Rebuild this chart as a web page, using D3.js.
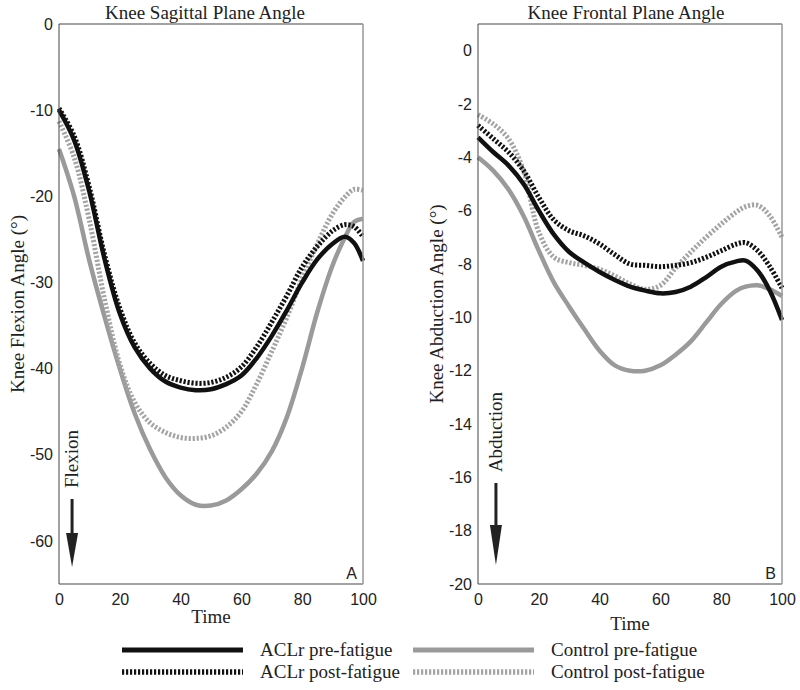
<!DOCTYPE html>
<html><head><meta charset="utf-8">
<script src="https://cdn.jsdelivr.net/npm/d3@7"></script>
<style>body{margin:0;background:#fff}</style>
</head><body>
<svg id="c" width="800" height="690"></svg>
<script>
// ---- data ----
const seriesNames = ["ACLr pre-fatigue","ACLr post-fatigue","Control pre-fatigue","Control post-fatigue"];
const sagT = [0,5,10,15,20,25,30,35,40,45,50,55,60,65,70,75,80,85,90,94,97,100];
const sagAclrPre  = [-10,-13.5,-19.5,-27.3,-33.6,-37.6,-40.0,-41.5,-42.2,-42.5,-42.4,-41.8,-40.8,-38.8,-36.2,-33.2,-30,-27.3,-25.5,-24.7,-25.4,-27.5];
const sagAclrPost = [-9.8,-13,-19,-26.8,-33,-37.1,-39.4,-40.8,-41.4,-41.7,-41.6,-41,-39.8,-37.5,-34.6,-31.5,-28.2,-25.8,-24,-23.3,-23.5,-24.7];
const sagCtrlPre  = [-14.5,-20,-27.5,-34,-40,-45.3,-49.4,-52.6,-54.7,-55.8,-55.9,-55.3,-54.0,-52.2,-49.6,-45.6,-39.9,-33.4,-28.0,-24.8,-23.0,-22.6];
const sagCtrlPost = [-11.3,-15.5,-22.8,-32,-39.5,-44,-46.3,-47.4,-48,-48.1,-47.8,-46.8,-45,-41.8,-38,-34,-29.5,-25.5,-22,-20.1,-19.2,-19.3];
const froT = [0,5,10,15,20,25,30,35,40,45,50,55,60,65,70,75,80,85,88,92,96,100];
const froAclrPre  = [-3.25,-3.8,-4.3,-5.0,-6.0,-6.9,-7.55,-7.95,-8.3,-8.6,-8.85,-9.0,-9.1,-9.05,-8.85,-8.5,-8.1,-7.9,-7.87,-8.25,-9.0,-10.1];
const froAclrPost = [-2.8,-3.3,-3.8,-4.5,-5.5,-6.35,-6.75,-6.95,-7.25,-7.65,-8.0,-8.05,-8.1,-8.05,-7.95,-7.75,-7.5,-7.25,-7.2,-7.5,-8.1,-8.9];
const froCtrlPre  = [-4.0,-4.5,-5.2,-6.2,-7.5,-8.7,-9.6,-10.45,-11.25,-11.8,-12.0,-12.0,-11.8,-11.4,-10.9,-10.2,-9.5,-9.0,-8.85,-8.8,-8.95,-9.2];
const froCtrlPost = [-2.4,-2.75,-3.3,-4.5,-6.8,-7.75,-7.95,-8.05,-8.2,-8.45,-8.75,-8.95,-8.8,-8.15,-7.55,-7.0,-6.5,-6.05,-5.85,-5.8,-6.2,-7.0];
const xTicks = [0,20,40,60,80,100];
const sagYTicks = [0,-10,-20,-30,-40,-50,-60];
const froYTicks = [0,-2,-4,-6,-8,-10,-12,-14,-16,-18,-20];

const styles = [
  {color:"#111", dash:null, w:4.5},
  {color:"#111", dash:"2.2,1.8", w:5},
  {color:"#9a9a9a", dash:null, w:4.5},
  {color:"#a4a4a4", dash:"2.2,1.8", w:5}
];

const svg = d3.select("#c");
const serif = "'Liberation Serif','Times New Roman',serif";
const sans = "'Liberation Sans',Arial,sans-serif";

function panel(o){
  const x = d3.scaleLinear().domain([0,100]).range([o.x0,o.x1]);
  const y = d3.scaleLinear().domain(o.ydom).range([o.y1,o.y0]);
  const g = svg.append("g");
  const fmt = d=>String(d);
  const ax = g.append("g").attr("transform",`translate(0,${o.y1})`)
    .call(d3.axisBottom(x).tickValues(xTicks).tickFormat(fmt).tickSize(0).tickPadding(10));
  const ay = g.append("g").attr("transform",`translate(${o.x0},0)`)
    .call(d3.axisLeft(y).tickValues(o.yticks).tickFormat(fmt).tickSize(0).tickPadding(6));
  [ax,ay].forEach(a=>{a.select(".domain").remove();
    a.selectAll("text").attr("font-family",sans).attr("font-size",16).attr("fill","#222");});
  const line = d3.line().x((d,i)=>x(o.t[i])).y(d=>y(d)).curve(d3.curveCatmullRom.alpha(0.5));
  const order=[2,3,0,1];
  order.forEach(k=>{
    const s=styles[k];
    g.append("path").attr("d",line(o.series[k])).attr("fill","none")
      .attr("stroke",s.color).attr("stroke-width",s.w)
      .attr("stroke-dasharray",s.dash).attr("stroke-linejoin","round");
  });
  g.append("line").attr("x1",o.x0).attr("x2",o.x1).attr("y1",o.y0).attr("y2",o.y0).attr("stroke","#444");
  g.append("line").attr("x1",o.x0).attr("x2",o.x1).attr("y1",o.y1).attr("y2",o.y1).attr("stroke","#444");
  g.append("line").attr("x1",o.x0).attr("x2",o.x0).attr("y1",o.y0).attr("y2",o.y1).attr("stroke","#444");
  g.append("line").attr("x1",o.x1).attr("x2",o.x1).attr("y1",o.y0).attr("y2",o.y1).attr("stroke","#999").attr("stroke-width",1.5);
  g.append("text").attr("x",o.titleX).attr("y",19).attr("text-anchor","middle")
    .attr("font-family",serif).attr("font-size",19).attr("fill","#222").text(o.title);
  g.append("text").attr("x",(o.x0+o.x1)/2).attr("y",o.timeY).attr("text-anchor","middle")
    .attr("font-family",serif).attr("font-size",19).attr("fill","#222").text("Time");
  g.append("text").attr("transform",`translate(${o.ylabX},${(o.y0+o.y1)/2}) rotate(-90)`)
    .attr("text-anchor","middle").attr("font-family",serif).attr("font-size",19).attr("fill","#222").text(o.ylabel);
  g.append("text").attr("x",o.x1-6).attr("y",o.y1-5).attr("text-anchor","end")
    .attr("font-family",sans).attr("font-size",16).attr("fill","#222").text(o.letter);
  const ax0 = x(o.arrowT);
  g.append("line").attr("x1",ax0).attr("x2",ax0).attr("y1",o.arrowTop).attr("y2",o.arrowHead).attr("stroke","#222").attr("stroke-width",3);
  g.append("path").attr("d",`M${ax0-6},${o.arrowHead} L${ax0+6},${o.arrowHead} L${ax0},${o.arrowTip} Z`).attr("fill","#222");
  g.append("text").attr("transform",`translate(${ax0+6},${o.arrowTextY}) rotate(-90)`)
    .attr("text-anchor","middle").attr("font-family",serif).attr("font-size",19).attr("fill","#222").text(o.arrowText);
}

panel({x0:59,x1:363,y0:24,y1:584,ydom:[-65,0],yticks:sagYTicks,t:sagT,
  series:[sagAclrPre,sagAclrPost,sagCtrlPre,sagCtrlPost],
  title:"Knee Sagittal Plane Angle",titleX:205,timeY:623,ylabel:"Knee Flexion Angle (°)",ylabX:24,
  letter:"A",arrowT:4.3,arrowTop:499,arrowHead:533,arrowTip:567,arrowText:"Flexion",arrowTextY:459});
panel({x0:478,x1:782,y0:24,y1:584,ydom:[-20,1],yticks:froYTicks,t:froT,
  series:[froAclrPre,froAclrPost,froCtrlPre,froCtrlPost],
  title:"Knee Frontal Plane Angle",titleX:626,timeY:630,ylabel:"Knee Abduction Angle (°)",ylabX:443,
  letter:"B",arrowT:5.9,arrowTop:483,arrowHead:525,arrowTip:565,arrowText:"Abduction",arrowTextY:432});

const leg = svg.append("g");
const legPos = [{x:122,y:650},{x:122,y:672},{x:413,y:650},{x:413,y:672}];
seriesNames.forEach((n,i)=>{
  const p=legPos[i], s=styles[i];
  leg.append("line").attr("x1",p.x).attr("x2",p.x+121).attr("y1",p.y).attr("y2",p.y)
    .attr("stroke",s.color).attr("stroke-width",s.w+0.5).attr("stroke-dasharray",s.dash);
  leg.append("text").attr("x",p.x+138).attr("y",p.y+6).attr("font-family",serif).attr("font-size",19)
    .attr("fill","#222").text(n);
});
</script>
</body></html>
